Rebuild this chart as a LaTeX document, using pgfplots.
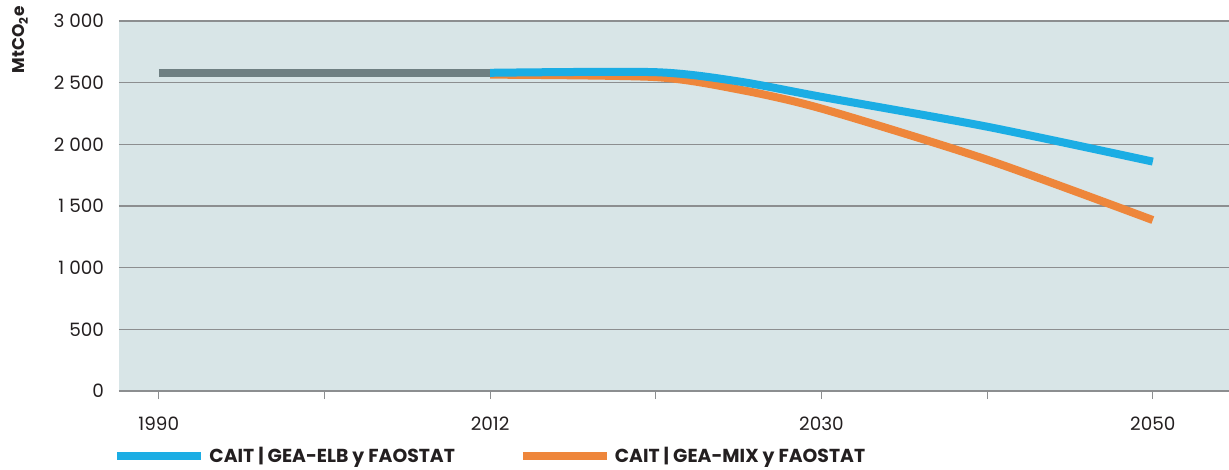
\documentclass[border=0pt]{standalone}
\usepackage{fontspec}
\setmainfont{Poppins}
\usepackage{pgfplots}
\pgfplotsset{compat=1.18}
\definecolor{bgc}{HTML}{D8E5E7}
\definecolor{gridc}{HTML}{8C8E90}
\definecolor{histc}{HTML}{6E7F82}
\definecolor{elbc}{HTML}{1BADE4}
\definecolor{mixc}{HTML}{EE863B}
\definecolor{txtc}{HTML}{231F20}
\begin{document}
\begin{tikzpicture}
\begin{axis}[
    scale only axis,
    width=555pt, height=185pt,
    xmin=-0.24, xmax=6.46,
    ymin=0, ymax=3000,
    xtick={0,...,6},
    xticklabels={1990,,2012,,2030,,2050},
    ytick={0,500,...,3000},
    /pgf/number format/1000 sep={\ },
    /pgf/number format/assume math mode=true,
    ymajorgrids,
    grid style={gridc, line width=0.8pt},
    axis background/.style={fill=bgc},
    axis x line*=bottom,
    axis y line*=left,
    x axis line style={gridc, line width=0.8pt},
    y axis line style={draw=none},
    xtick align=outside,
    major x tick style={gridc, line width=0.6pt},
    x tick style={/pgfplots/major tick length=4pt},
    ytick style={draw=none},
    tick label style={font=\fontsize{9.2}{10}\selectfont, text=txtc},
    yticklabel style={xshift=-4pt},
    xticklabel style={yshift=-5pt},
    ylabel={\bfseries MtCO\textsubscript{2}e},
    ylabel style={at={(axis description cs:-0.089,0.95)}, anchor=center, rotate=0, font=\fontsize{8.5}{10}\selectfont, text=txtc},
    legend style={at={(axis description cs:-0.005,-0.177)}, anchor=west, draw=none, fill=none,
        legend columns=2, inner sep=0pt, outer sep=0pt,
        font=\fontsize{9.4}{10}\selectfont\bfseries, text=txtc,
        /tikz/every even column/.append style={column sep=30pt}},
    legend cell align=left,
    legend image code/.code={\draw[#1, line width=4pt] (0pt,0pt) -- (42pt,0pt);},
    every axis plot/.append style={line width=4pt},
]
\addlegendimage{elbc}
\addlegendentry{CAIT | GEA-ELB y FAOSTAT}
\addlegendimage{mixc}
\addlegendentry{CAIT | GEA-MIX y FAOSTAT}
\addplot[histc, forget plot] coordinates {(0,2580) (2,2580)};
\addplot[mixc, smooth, tension=0.45, forget plot] coordinates {(2,2565) (3,2545) (3.5,2445) (4,2290) (5,1875) (6,1386)};
\addplot[elbc, smooth, tension=0.45, forget plot] coordinates {(2,2580) (3,2585) (3.5,2510) (4,2385) (5,2143) (6,1860)};
\end{axis}
\pgfresetboundingbox
\useasboundingbox (-59.5pt,-39.5pt) rectangle (555pt,195.5pt);
\end{tikzpicture}
\end{document}
